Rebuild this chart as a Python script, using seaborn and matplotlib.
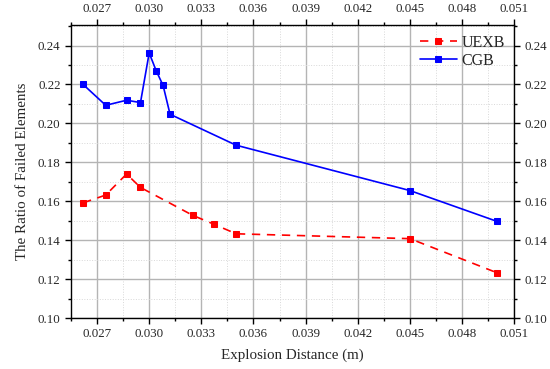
import pandas as pd
import matplotlib.pyplot as plt
import seaborn as sns
from matplotlib.ticker import MultipleLocator, FormatStrFormatter

# Dữ liệu
uexb_x = [0.0262, 0.0275, 0.0287, 0.0295, 0.0325, 0.0337, 0.035, 0.045, 0.050]
uexb_y = [0.1592, 0.1632, 0.1740, 0.1671, 0.1528, 0.1483, 0.1433, 0.1408, 0.1233]
cgb_x = [0.0262, 0.0275, 0.0287, 0.0295, 0.0300, 0.0304, 0.0308, 0.0312, 0.035, 0.045, 0.050]
cgb_y = [0.2200, 0.2093, 0.2119, 0.2107, 0.2362, 0.2271, 0.2195, 0.2047, 0.1888, 0.1655, 0.1497]

df = pd.concat([
    pd.DataFrame({"x": uexb_x, "y": uexb_y, "series": "UEXB"}),
    pd.DataFrame({"x": cgb_x, "y": cgb_y, "series": "CGB"}),
])

sns.set_style("ticks")
plt.rcParams['font.family'] = ['Liberation Serif', 'DejaVu Serif']

fig = plt.figure(figsize=(5.5, 3.69), dpi=100)
ax = fig.add_axes([0.129, 0.138, 0.806, 0.794])

# lưới chính + phụ
ax.xaxis.set_major_locator(MultipleLocator(0.003))
ax.xaxis.set_minor_locator(MultipleLocator(0.0015))
ax.yaxis.set_major_locator(MultipleLocator(0.02))
ax.yaxis.set_minor_locator(MultipleLocator(0.01))
ax.grid(which='major', color='#b4b4b4', linewidth=1.0)
ax.grid(which='minor', color='#d8d8d8', linewidth=0.7, linestyle=':')
ax.set_axisbelow(True)

sns.lineplot(data=df[df.series == "UEXB"], x="x", y="y", ax=ax, color='#ff0000',
             linestyle=(0, (5, 4)), linewidth=1.2, marker='s', markersize=5,
             markeredgecolor='#ff0000', label='UEXB', sort=False)
sns.lineplot(data=df[df.series == "CGB"], x="x", y="y", ax=ax, color='#0000ff',
             linestyle='-', linewidth=1.2, marker='s', markersize=5,
             markeredgecolor='#0000ff', label='CGB', sort=False)

ax.set_xlim(0.0255, 0.051)
ax.set_ylim(0.10, 0.2505)
ax.xaxis.set_major_formatter(FormatStrFormatter('%.3f'))
ax.yaxis.set_major_formatter(FormatStrFormatter('%.2f'))

ax.tick_params(which='both', direction='out', top=True, right=True,
               labeltop=True, labelright=True, labelsize=9.3, color='black', width=1)
ax.tick_params(which='major', length=4)
ax.tick_params(which='minor', length=2.5)
for s in ax.spines.values():
    s.set_color('black')
    s.set_linewidth(1.0)

ax.set_xlabel('Explosion Distance (m)', fontsize=10.8, labelpad=6)
ax.set_ylabel('The Ratio of Failed Elements', fontsize=10.8, labelpad=6)

ax.legend(loc='upper right', frameon=False, fontsize=11.5,
          handlelength=2.3, handletextpad=0.3, borderaxespad=0.2,
          labelspacing=0.15)

fig.savefig('out.png', dpi=100)
